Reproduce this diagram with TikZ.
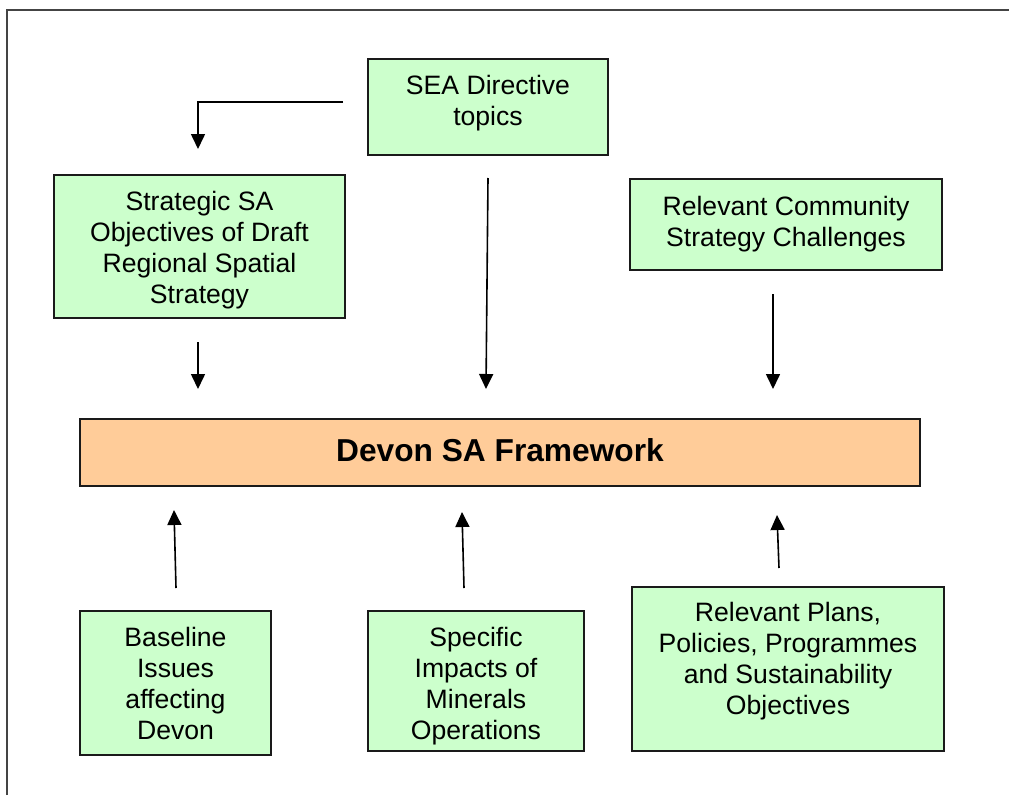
\documentclass[tikz,border=0pt]{standalone}
\usepackage{fontspec}
\setmainfont{Liberation Sans}
\usetikzlibrary{arrows.meta}
\definecolor{boxgreen}{HTML}{CCFFCC}
\definecolor{boxorange}{HTML}{FFCC99}
\definecolor{edgecol}{HTML}{1A1A1A}
\definecolor{framecol}{HTML}{444444}
\newcommand{\boxtxt}[2]{\raisebox{#1}[\height][\depth]{\begin{tabular}{@{}c@{}}#2\end{tabular}}}
\begin{document}
\begin{tikzpicture}[x=1pt,y=-1pt,
  gbox/.style={draw=edgecol, line width=2pt, fill=boxgreen, inner sep=0pt,
    font=\fontsize{26.6}{31}\selectfont},
  obox/.style={draw=edgecol, line width=2pt, fill=boxorange, inner sep=0pt,
    font=\fontsize{31.7}{36}\selectfont\bfseries},
  conn/.style={line width=1.6pt, draw=black, -{Triangle[length=15pt,width=14pt]}},
  framestyle/.style={line width=2pt, draw=framecol}]
\useasboundingbox (0,0) rectangle (1009,795);
% outer frame
\draw[framestyle] (7,795) -- (7,9.5) -- (1009,9.5);
% boxes
\node[gbox, minimum width=240pt, minimum height=96pt] (sea) at (488,107)
  {\boxtxt{3.2pt}{SEA Directive\\topics}};
\node[gbox, minimum width=291pt, minimum height=143pt] (strat) at (199.5,246.5)
  {\boxtxt{-3.8pt}{Strategic SA\\Objectives of Draft\\Regional Spatial\\Strategy}};
\node[gbox, minimum width=312pt, minimum height=91pt] (comm) at (786,224.5)
  {\boxtxt{0pt}{Relevant Community\\Strategy Challenges}};
\node[obox, minimum width=840pt, minimum height=67pt] (devon) at (500,452.5)
  {\boxtxt{-1.7pt}{Devon SA Framework}};
\node[gbox, minimum width=191pt, minimum height=144pt] (base) at (175.5,683)
  {\boxtxt{-3.3pt}{Baseline\\Issues\\affecting\\Devon}};
\node[gbox, minimum width=216pt, minimum height=140pt] (spec) at (476,680.7)
  {\boxtxt{-5.8pt}{Specific\\Impacts of\\Minerals\\Operations}};
\node[gbox, minimum width=312pt, minimum height=164pt] (plans) at (788,669)
  {\boxtxt{7pt}{Relevant Plans,\\Policies, Programmes\\and Sustainability\\Objectives}};
% connector end points
\coordinate (seaL) at (343,102);
\coordinate (seaBend) at (198,102);
\coordinate (stratTop) at (198,149);
\coordinate (seaB) at (488,178);
\coordinate (devonT2) at (486,389);
\coordinate (stratB) at (198,342);
\coordinate (devonT1) at (198,389);
\coordinate (commB) at (773,294);
\coordinate (devonT3) at (773,389);
\coordinate (baseT) at (176,588);
\coordinate (devonB1) at (174,510);
\coordinate (specT) at (464,588);
\coordinate (devonB2) at (462,512);
\coordinate (plansT) at (779,568);
\coordinate (devonB3) at (777,515);
% connectors
\draw[conn] (seaL) -- (seaBend) -- (stratTop);
\draw[conn] (seaB) -- (devonT2);
\draw[conn] (stratB) -- (devonT1);
\draw[conn] (commB) -- (devonT3);
\draw[conn] (baseT) -- (devonB1);
\draw[conn] (specT) -- (devonB2);
\draw[conn] (plansT) -- (devonB3);
\end{tikzpicture}
\end{document}
